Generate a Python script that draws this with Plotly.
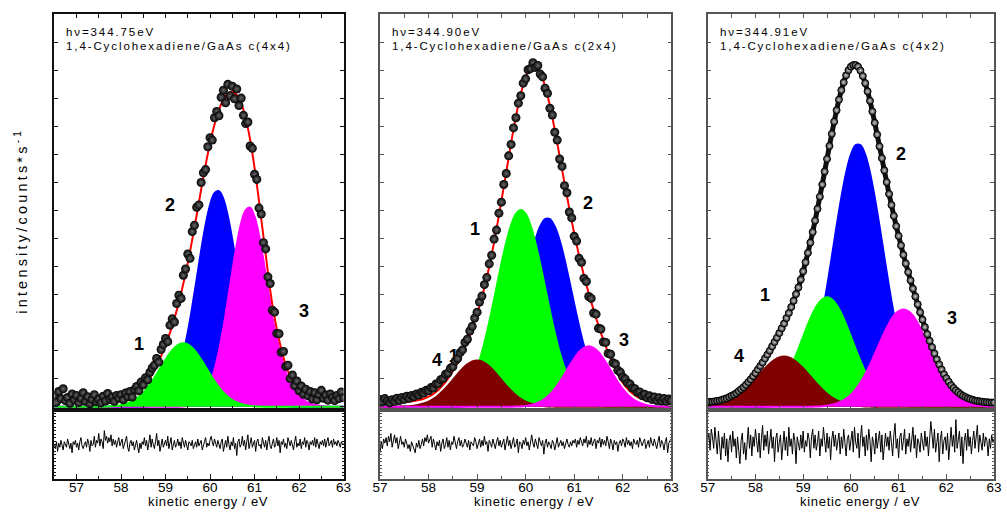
import numpy as np
import plotly.graph_objects as go

# ---------------- data ----------------
# energy ranges of the three spectra (eV)
range1 = [56.5, 63.0]
range2 = [57.0, 63.0]
range3 = [57.0, 63.0]
comp_step = 0.1

# fitted components: (start energy, values every 0.1 eV)
p1_blue = (58.4, [0.04,0.08,0.16,0.33,0.65,1.22,2.17,3.68,5.96,9.2,13.6,19.0,25.5,32.6,39.8,46.3,51.4,54.4,54.9,52.9,48.5,42.5,35.5,28.3,21.5,15.6,10.8,7.12,4.48,2.69,1.54,0.84,0.44,0.22,0.11,0.05])
p1_magenta = (59.3, [0.05,0.11,0.25,0.53,1.05,1.98,3.53,5.94,9.45,14.2,20.2,27.2,34.5,41.3,46.8,50.1,50.7,48.4,43.7,37.3,30.1,22.9,17.5,12.8,9.0,6.2,4.2,2.8,1.8,1.1,0.7,0.4,0.2,0.1])
p1_green = (57.6, [0.04,0.08,0.14,0.25,0.43,0.71,1.13,1.73,2.55,3.62,4.96,6.54,8.32,10.2,12.05,13.7,15.05,15.9,16.2,15.9,15.05,13.7,12.05,10.2,8.32,6.54,4.96,3.62,2.55,1.73,1.13,0.71,0.43,0.25,0.14,0.08,0.04])
p1_bg = 1.5

p2_blue = (58.6, [0.05,0.10,0.21,0.39,0.72,1.26,2.11,3.41,5.29,7.9,11.3,15.6,20.6,26.2,32.0,37.6,42.4,45.9,47.8,47.8,45.9,42.4,37.6,32.0,26.2,20.6,15.6,11.3,7.9,5.29,3.41,2.11,1.26,0.72,0.39,0.21,0.10,0.05])
p2_green = (58.0, [0.04,0.08,0.15,0.30,0.56,0.99,1.70,2.81,4.46,6.78,9.92,13.9,18.8,24.4,30.4,36.4,41.8,46.2,49.1,50.1,49.1,46.2,41.8,36.4,30.4,24.4,18.8,13.9,9.92,6.78,4.46,2.81,1.70,0.99,0.56,0.30,0.15,0.08,0.04])
p2_brown = (57.4, [0.05,0.09,0.17,0.30,0.52,0.85,1.35,2.04,2.95,4.08,5.4,6.86,8.34,9.71,10.8,11.55,11.8,11.55,10.8,9.71,8.34,6.86,5.4,4.08,2.95,2.04,1.35,0.85,0.52,0.30,0.17,0.09,0.05])
p2_magenta = (59.7, [0.03,0.06,0.12,0.24,0.44,0.78,1.30,2.08,3.17,4.59,6.33,8.3,10.4,12.3,13.95,15.0,15.4,15.0,13.95,12.3,10.4,8.3,6.33,4.59,3.17,2.08,1.30,0.78,0.44,0.24,0.12,0.06,0.03])
p2_bg = 1.2

p3_blue = (58.1, [0.03,0.06,0.12,0.23,0.44,0.79,1.37,2.30,3.72,5.8,8.7,12.6,17.6,23.6,30.6,38.2,46.0,53.3,59.6,64.2,66.6,66.6,64.2,59.6,53.3,46.0,38.2,30.6,23.6,17.6,12.6,8.7,5.8,3.72,2.30,1.37,0.79,0.44,0.23,0.12,0.06,0.03])
p3_green = (57.5, [0.02,0.05,0.09,0.16,0.29,0.51,0.85,1.38,2.15,3.24,4.70,6.60,8.93,11.7,14.7,17.9,21.0,23.8,26.0,27.4,27.9,27.4,26.0,23.8,21.0,17.9,14.7,11.7,8.93,6.60,4.70,3.24,2.15,1.38,0.85,0.51,0.29,0.16,0.09,0.05,0.02])
p3_brown = (57.0, [0.19,0.31,0.50,0.78,1.19,1.73,2.45,3.36,4.44,5.69,7.06,8.47,9.83,11.0,11.98,12.6,12.8,12.6,11.98,11.0,9.83,8.47,7.06,5.69,4.44,3.36,2.45,1.73,1.19,0.78,0.50,0.31,0.19,0.11,0.06])
p3_magenta = (59.2, [0.05,0.10,0.17,0.31,0.52,0.86,1.37,2.10,3.12,4.46,6.18,8.28,10.7,13.4,16.2,18.9,21.3,23.2,24.4,24.8,24.4,23.2,21.3,18.9,16.2,13.4,10.7,8.28,6.18,4.46,3.12,2.10,1.37,0.86,0.52,0.31,0.17,0.10,0.05])
p3_bg = 1.0

# measured intensities, every 0.05 eV over each range
data1 = [2.8,1.2,3.9,2.1,4.6,1.6,2.4,0.9,3.3,1.8,2.9,1.1,2.2,3.6,1.4,2.6,0.8,1.9,3.1,1.3,
         2.0,1.0,2.7,1.5,3.4,1.9,2.5,1.4,2.9,2.2,3.1,1.8,3.5,2.6,3.9,2.5,4.4,5.2,4.1,6.3,
         5.6,7.4,6.9,8.8,9.9,10.6,12.3,11.4,14.6,15.9,17.4,16.6,20.8,22.4,21.6,26.3,28.4,27.6,33.5,35.1,
         38.9,37.8,44.6,46.2,50.8,51.4,57.1,59.6,60.4,66.2,68.5,67.9,73.6,75.2,74.1,78.8,80.6,77.4,82.1,79.2,
         81.6,78.4,80.9,76.7,78.6,74.2,72.1,72.5,66.4,65.8,59.2,57.9,50.6,49.1,41.8,40.2,33.1,31.4,24.6,24.1,
         18.7,18.6,13.9,14.1,10.3,10.6,7.2,8.1,5.4,6.6,4.1,5.3,3.2,4.5,2.8,3.9,2.0,3.6,1.8,3.1,
         4.2,2.2,3.0,1.7,3.3,2.4,1.6,2.9,2.1,3.8,2.3]
data2 = [1.9,1.3,2.1,1.5,1.0,1.8,1.4,2.2,1.6,2.4,1.9,2.7,2.2,2.9,2.6,3.3,3.0,3.7,3.5,4.2,
         4.1,4.9,4.8,5.8,5.9,6.9,7.2,8.3,8.6,9.8,10.2,11.7,12.3,13.8,14.5,16.4,17.2,19.3,20.5,22.6,
         24.1,26.7,28.2,31.1,32.9,36.4,38.6,42.7,45.0,49.3,52.1,56.6,59.4,63.9,66.8,71.0,73.6,77.3,79.2,82.4,
         83.5,85.8,86.1,87.6,86.4,86.9,84.7,84.0,81.1,79.8,76.0,74.3,69.9,67.9,63.1,61.2,56.3,54.5,49.6,48.1,
         43.4,42.2,37.8,36.8,32.7,31.9,28.1,27.6,23.9,23.6,20.0,19.8,16.5,16.4,13.6,13.4,11.2,10.9,9.3,8.8,
         7.6,7.1,6.1,5.8,4.8,4.6,3.7,3.8,2.9,3.2,2.3,2.8,1.9,2.5,1.6,2.3,1.5,2.1,1.4,2.0,1.6]
data3 = [1.2,1.3,1.3,1.4,1.5,1.6,1.8,2.0,2.2,2.5,2.8,3.1,3.5,4.0,4.5,5.0,5.6,6.3,7.0,7.8,
         8.6,9.5,10.4,11.3,12.3,13.3,14.3,15.4,16.5,17.6,18.8,20.0,21.2,22.6,23.9,25.4,27.0,28.7,30.4,32.4,
         34.5,36.8,39.2,41.8,44.5,47.4,50.4,53.5,56.6,59.9,63.1,66.4,69.5,72.6,75.5,78.2,80.6,82.6,84.4,85.7,
         86.6,87.0,87.0,86.6,85.6,84.2,82.4,80.3,77.9,75.2,72.3,69.3,66.3,63.3,60.2,57.2,54.2,51.4,48.6,46.0,
         43.5,41.1,38.7,36.5,34.3,32.2,30.1,28.1,26.1,24.1,22.2,20.3,18.5,16.8,15.2,13.6,12.1,10.8,9.5,8.3,
         7.3,6.4,5.5,4.8,4.2,3.7,3.2,2.8,2.5,2.2,2.0,1.8,1.6,1.5,1.4,1.3,1.2,1.2,1.1,1.1,1.1]

# residuals (data - fit), every 0.025 eV
res1 = [0,-3,2,-5,1,-2,3,-1,-4,2,0,-2,4,-1,-3,1,-6,2,0,3,
        -2,1,-4,2,5,-1,-3,0,2,-2,4,1,-5,3,-1,0,6,-2,3,1,
        8,-1,4,2,-3,10,3,6,1,5,2,7,-1,4,0,3,-2,2,5,-1,
        1,4,-3,0,2,6,-2,-5,1,3,-1,2,-4,0,3,-2,-6,1,-3,2,
        0,5,-1,3,-4,1,7,-2,4,0,-3,2,8,-1,3,-5,1,4,-2,0,
        3,-1,6,-3,2,5,-4,1,3,-2,0,4,-1,2,-3,5,1,-2,3,0,
        -4,2,1,-1,3,-3,0,2,-2,4,-1,1,3,-4,0,2,5,-2,1,-1,
        3,6,2,-1,4,1,-2,3,0,-3,2,4,-5,1,3,-2,6,0,-4,2,
        -1,5,-3,1,-8,2,4,-2,0,6,-1,3,-4,2,7,-3,1,5,-2,0,
        3,-5,2,4,-1,0,-3,5,1,-2,3,-4,2,6,-1,-3,1,4,-2,0,
        5,-1,3,-6,2,0,4,-2,1,-3,5,2,-1,3,0,-4,2,6,-2,1,
        -1,4,-3,2,0,5,-2,3,1,-4,2,0,3,-1,5,-2,4,1,-3,2,
        0,3,-1,4,-2,2,5,-1,1,3,-2,4,0,2,-1,3,1,-2,2,0,1]
res2 = [-6,2,-3,4,1,5,-1,6,2,8,-2,4,7,1,5,-3,3,6,0,2,
        -2,4,1,-3,0,-5,2,-1,-4,-6,1,-2,3,-3,0,4,-1,5,2,7,
        1,3,6,-2,4,0,-4,2,-1,3,-5,1,4,-3,0,5,-2,3,-4,2,
        0,6,1,-3,2,5,-1,3,-2,0,4,1,-2,3,-4,2,0,-1,5,2,
        -3,1,4,-2,3,-1,6,0,2,-5,3,1,-2,4,0,-3,2,5,-1,3,
        -2,1,4,-4,2,6,-1,3,-3,1,5,-2,0,4,-6,2,1,-3,3,0,
        5,-1,2,-4,3,7,1,-2,4,0,-3,5,2,-1,3,-7,1,4,-2,2,
        0,-3,3,1,-4,2,5,-2,0,3,-1,2,-3,1,4,0,-2,2,-1,3,
        1,4,-2,3,0,5,2,-1,4,1,6,-2,3,0,5,-1,2,4,-3,3,
        1,5,-2,4,0,3,-1,6,2,-3,4,1,-4,3,0,2,-5,1,3,-1,
        4,2,-2,5,0,3,-1,2,-3,4,1,0,3,-2,5,1,-1,2,4,-3,
        0,3,-2,5,1,-1,4,0,-3,2,6,-2,3,1,-4,2,5,-6,1,3,4]
res3 = [2,6,-3,8,4,-2,9,3,-5,7,1,-8,4,-2,6,-6,3,-9,2,5,
        -4,7,-1,3,-7,4,-3,-10,2,6,-5,1,-8,3,9,-2,5,-6,4,-1,
        8,2,-4,6,-7,3,10,-3,5,-1,7,-5,2,8,-2,4,-9,3,6,-4,
        1,5,-8,2,7,-3,4,-6,9,-1,3,-5,6,2,-10,4,1,-3,5,-2,
        7,-4,2,-1,6,3,-7,4,8,-2,5,-3,1,7,-6,3,-1,9,2,-4,
        6,-2,4,-8,3,7,-1,5,-3,2,6,-5,4,-2,8,1,-6,3,5,-3,
        2,7,-4,9,1,-2,6,-7,3,10,-1,4,-6,5,-3,8,2,-9,4,1,
        -5,6,-2,3,7,-4,5,-8,2,6,-1,4,-3,7,1,-6,5,11,-2,3,
        -7,4,6,-3,2,8,-5,3,-1,6,-4,2,9,-2,5,-7,3,1,-4,6,
        2,-3,7,-1,4,-6,3,12,5,-2,8,-4,1,6,-9,3,7,-5,2,4,
        -3,6,-8,2,9,-1,5,-4,13,-2,3,7,-6,4,-10,2,6,-3,8,-1,
        4,-5,2,7,-2,3,10,-4,5,1,-3,6,-1,4,2,-6,3,-2,5,1,3]
res_ranges = [[-25, 25], [-25, 25], [-18, 18]]

titles_hv = ["hν=344.75eV", "hν=344.90eV", "hν=344.91eV"]
titles_sys = ["1,4-Cyclohexadiene/GaAs c(4x4)", "1,4-Cyclohexadiene/GaAs c(2x4)",
              "1,4-Cyclohexadiene/GaAs c(4x2)"]
xticks = [57, 58, 59, 60, 61, 62, 63]

# peak labels: (text, energy, intensity)
labels1 = [("1", 58.40, 15.9), ("2", 59.11, 51.3), ("3", 62.10, 24.3)]
labels2 = [("1", 58.95, 45.2), ("2", 61.29, 51.8), ("3", 62.02, 17.0), ("4", 58.17, 11.9)]
labels3 = [("1", 58.20, 28.6), ("2", 61.04, 64.4), ("3", 62.11, 22.6), ("4", 57.65, 13.0)]

COL = {"blue": "#0000ff", "green": "#00ff00", "magenta": "#ff00ff", "brown": "#800000"}

# ---------------- geometry ----------------
W, H = 1007, 515
panels_px = [(47, 341), (378, 674), (711, 1002)]
main_px = (14, 410)
res_px = (410, 479)
FONT = "Liberation Sans, Arial, sans-serif"


def xd(a, b):
    return [a / W, b / W]


def yd(top, bottom):
    return [1 - bottom / H, 1 - top / H]


def grid(rng, step):
    n = int(round((rng[1] - rng[0]) / step)) + 1
    return np.round(rng[0] + step * np.arange(n), 4)


def pad(comp, g):
    start, vals = comp
    y = np.zeros(len(g))
    i0 = int(round((start - g[0]) / comp_step))
    for k, v in enumerate(vals):
        if 0 <= i0 + k < len(g):
            y[i0 + k] = v
    return y


fig = go.Figure()
layout = dict(width=W, height=H, margin=dict(l=0, r=0, t=0, b=0),
              paper_bgcolor="white", plot_bgcolor="white", showlegend=False,
              font=dict(family=FONT, color="black"))
annotations = []

spectra = [
    (range1, [("blue", p1_blue), ("magenta", p1_magenta), ("green", p1_green)], p1_bg, data1, res1, labels1),
    (range2, [("blue", p2_blue), ("green", p2_green), ("brown", p2_brown), ("magenta", p2_magenta)], p2_bg, data2, res2, labels2),
    (range3, [("blue", p3_blue), ("green", p3_green), ("brown", p3_brown), ("magenta", p3_magenta)], p3_bg, data3, res3, labels3),
]
frame_cols = ["#111111", "#555555", "#555555"]

for i, (rng, comps, bg, data, res, labels) in enumerate(spectra):
    xm = "x" if i == 0 else f"x{2*i+1}"
    ym = "y" if i == 0 else f"y{2*i+1}"
    xr = f"x{2*i+2}"
    yr = f"y{2*i+2}"
    g = grid(rng, comp_step)
    fit = np.zeros(len(g)) + bg
    for name, comp in comps:
        y = pad(comp, g)
        fit = fit + y
        fig.add_trace(go.Scatter(x=g, y=y, mode="lines", fill="tozeroy",
                                 fillcolor=COL[name], line=dict(color=COL[name], width=2, shape="spline"),
                                 xaxis=xm, yaxis=ym, hoverinfo="skip"))
    if i == 1:
        # stray label partly hidden under the data points
        fig.add_trace(go.Scatter(x=[58.52], y=[12.6], mode="text", text=["1"],
                                 textfont=dict(family=FONT, size=18, color="black", weight="bold"),
                                 xaxis=xm, yaxis=ym, hoverinfo="skip"))
    fig.add_trace(go.Scatter(x=g, y=fit, mode="lines", line=dict(color="red", width=2, shape="spline"),
                             xaxis=xm, yaxis=ym, hoverinfo="skip"))
    xdata = np.linspace(rng[0], rng[1], len(data))
    if i < 2:
        fig.add_trace(go.Scatter(x=xdata, y=data, mode="markers",
                                 marker=dict(size=9, color="#000000", line=dict(width=0),
                                             gradient=dict(type="radial", color="#6a6a6a")),
                                 xaxis=xm, yaxis=ym, hoverinfo="skip"))
    else:
        fig.add_trace(go.Scatter(x=xdata, y=data, mode="lines+markers",
                                 line=dict(color="#111111", width=5, shape="spline"),
                                 marker=dict(size=7, color="#222222", line=dict(width=1, color="black"),
                                             gradient=dict(type="radial", color="#cfcfcf")),
                                 xaxis=xm, yaxis=ym, hoverinfo="skip"))
    xres = np.linspace(rng[0], rng[1], len(res))
    fig.add_trace(go.Scatter(x=xres, y=res, mode="lines", line=dict(color="black", width=1),
                             xaxis=xr, yaxis=yr, hoverinfo="skip"))

    px0, px1 = panels_px[i]
    fc = frame_cols[i]
    common = dict(showgrid=False, zeroline=False, showline=True, linecolor=fc, linewidth=1.5)
    layout["xaxis" if i == 0 else f"xaxis{2*i+1}"] = dict(
        domain=xd(px0, px1), range=rng, anchor=ym, showticklabels=False,
        ticks="inside", dtick=0.5, tick0=57, ticklen=4, tickcolor=fc, mirror="ticks", **common)
    layout["yaxis" if i == 0 else f"yaxis{2*i+1}"] = dict(
        domain=yd(*main_px), range=[-0.8, 100], anchor=xm, showticklabels=False,
        ticks="inside", dtick=100 / 14, ticklen=4, tickcolor=fc, mirror="ticks", **common)
    layout[f"xaxis{2*i+2}"] = dict(
        domain=xd(px0, px1), range=rng, anchor=yr, tickvals=xticks,
        ticktext=[str(t) for t in xticks], ticks="inside", ticklen=5, tickcolor=fc,
        tickfont=dict(family=FONT, size=13.5, color="black"), ticklabelstandoff=-5,
        minor=dict(dtick=0.5, tick0=57, ticks="inside", ticklen=3, tickcolor=fc),
        mirror=True, **common)
    layout[f"yaxis{2*i+2}"] = dict(
        domain=yd(*res_px), range=res_ranges[i], anchor=xr, showticklabels=False,
        ticks="inside", dtick=(res_ranges[i][1] - res_ranges[i][0]) / 20, ticklen=2,
        tickcolor=fc, mirror="ticks", **common)

    # header texts
    annotations.append(dict(xref="paper", yref="paper", x=(px0 + 10) / W, y=1 - 32 / H,
                            xanchor="left", yanchor="middle", showarrow=False,
                            text=f'<span style="letter-spacing:1.9px">{titles_hv[i]}</span>',
                            font=dict(family=FONT, size=11.5, color="black")))
    annotations.append(dict(xref="paper", yref="paper", x=(px0 + 10) / W, y=1 - 45.5 / H,
                            xanchor="left", yanchor="middle", showarrow=False,
                            text=f'<span style="letter-spacing:1.9px">{titles_sys[i]}</span>',
                            font=dict(family=FONT, size=11.5, color="black")))
    # axis title
    annotations.append(dict(xref="paper", yref="paper", x=((px0 + px1) / 2 + 9) / W, y=1 - 501 / H,
                            xanchor="center", yanchor="middle", showarrow=False,
                            text='<span style="letter-spacing:0.7px">kinetic energy / eV</span>',
                            font=dict(family=FONT, size=13, color="black")))
    for txt, ex, ey in labels:
        annotations.append(dict(xref=xm, yref=ym, x=ex, y=ey, showarrow=False, text=txt,
                                font=dict(family=FONT, size=18, color="black", weight="bold")))

annotations.append(dict(xref="paper", yref="paper", x=13 / W, y=1 - 221 / H, textangle=-90,
                        xanchor="center", yanchor="middle", showarrow=False,
                        text='<span style="letter-spacing:3.2px">intensity/counts*s<sup>-1</sup></span>',
                        font=dict(family=FONT, size=14.5, color="black")))
layout["annotations"] = annotations
fig.update_layout(**layout)
fig.write_html("out.html")
